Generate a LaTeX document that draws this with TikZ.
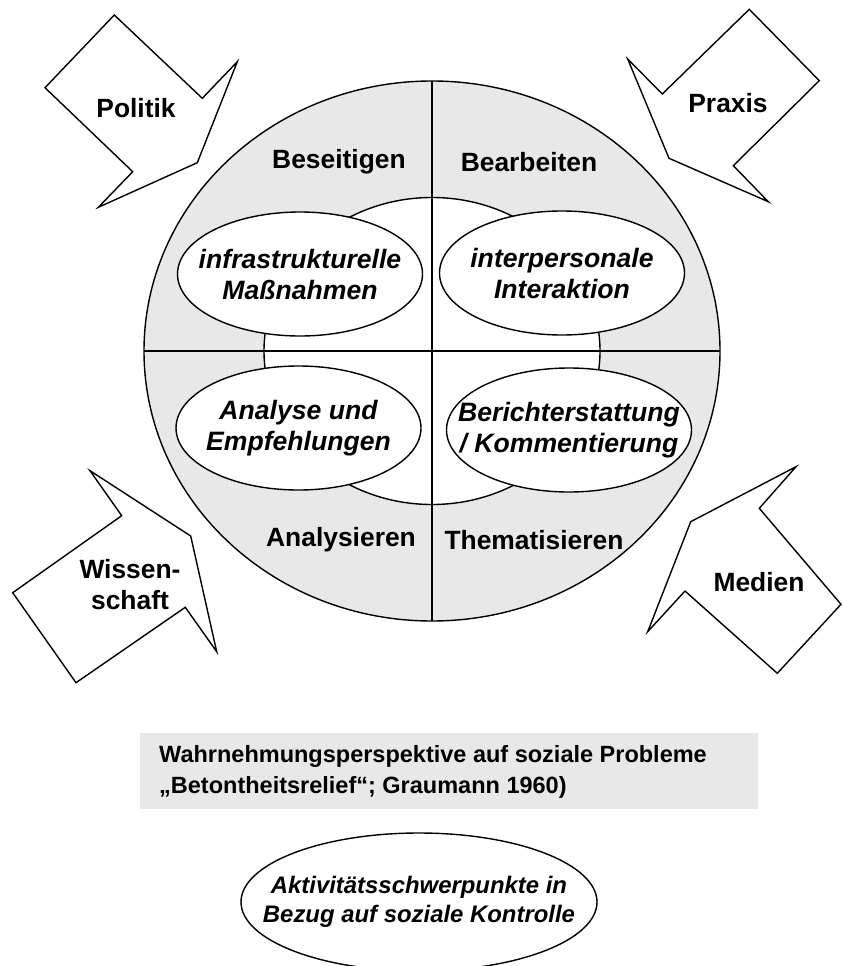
\documentclass[tikz,border=0pt]{standalone}
\usepackage{fontspec}
\setmainfont{Liberation Sans}
\usepackage{tikz}
\usetikzlibrary{shapes.geometric}
\definecolor{ringgray}{HTML}{E8E8E8}

\begin{document}
\begin{tikzpicture}[x=1pt, y=-1pt,
  thickline/.style={draw=black, line width=1.4pt, line join=miter},
  ringtext/.style={font=\fontsize{26.4}{31}\selectfont\bfseries, inner sep=0pt, align=center},
  focus/.style={ellipse, thickline, fill=white, minimum width=245pt, minimum height=124pt, inner sep=0pt},
  focustext/.style={font=\fontsize{26.6}{31}\selectfont\bfseries\itshape, inner sep=0pt, align=center},
  inflow/.style={thickline, fill=white}]
\useasboundingbox (0,0) rectangle (842,966);
\coordinate (c) at (432,351);
\coordinate (ringtop) at (432,81);
\coordinate (ringbottom) at (432,621);
\coordinate (ringleft) at (144,351);
\coordinate (ringright) at (720,351);
\fill[ringgray] (c) ellipse [x radius=288, y radius=270];
\draw[thickline] (c) ellipse [x radius=288, y radius=270];
\draw[thickline, fill=white] (c) ellipse [x radius=168, y radius=153.5];
\draw[thickline] (ringtop) -- (ringbottom);
\draw[thickline] (ringleft) -- (ringright);
\node[ringtext] (beseitigen) at (339,162) {Beseitigen};
\node[ringtext] (bearbeiten) at (529,162) {Bearbeiten};
\node[ringtext] (analysieren) at (341,540) {Analysieren};
\node[ringtext] (thematisieren) at (534,540) {Thematisieren};
\node[focus] (infra) at (300,274) {};
\node[focus] (inter) at (562,273) {};
\node[focus] (analyse) at (298.5,428) {};
\node[focus] (bericht) at (569,430) {};
\node[focustext] at (infra) {infrastrukturelle\\Maßnahmen};
\node[focustext] at (inter) {interpersonale\\Interaktion};
\node[focustext] at (analyse) {Analyse und\\Empfehlungen};
\node[focustext] at (bericht) {Berichterstattung\\/ Kommentierung};
\draw[inflow] (114.3,15) -- (202.3,98.3) -- (237.3,61.7) -- (197.3,162.7) -- (98.3,207.3) -- (132.7,171.7) -- (45,87.7) -- cycle;
\draw[inflow] (749.3,9.3) -- (819.3,80.7) -- (733.3,165.7) -- (768.3,201.7) -- (669,158.3) -- (627.7,59) -- (662.3,94) -- cycle;
\draw[inflow] (90,470.7) -- (190.7,536) -- (216.7,651.7) -- (185.3,607.3) -- (76,682.7) -- (12.7,592.7) -- (121.7,515.7) -- cycle;
\draw[inflow] (796,466.7) -- (690.7,521.7) -- (647.7,631.7) -- (685,591) -- (777.3,673.3) -- (841,604.3) -- (759.3,508.3) -- cycle;
\node[ringtext] (politik) at (136,108) {Politik};
\node[ringtext] (praxis) at (728,103) {Praxis};
\node[ringtext] (wissenschaft) at (130,584.5) {Wissen-\\schaft};
\node[ringtext] (medien) at (759,582) {Medien};
\node[fill=ringgray, minimum width=618pt, minimum height=76pt, inner sep=0pt] (percept) at (449,771) {};
\node[anchor=west, inner sep=0pt, align=left, font=\fontsize{23.5}{31}\selectfont\bfseries] (percepttext) at (159,772) {Wahrnehmungsperspektive auf soziale Probleme\\„Betontheitsrelief“; Graumann 1960)};
\node[focus, minimum width=356pt, minimum height=138pt] (activity) at (419,902) {};
\node[focustext, font=\fontsize{23.9}{29}\selectfont\bfseries\itshape] at (activity) {Aktivitätsschwerpunkte in\\Bezug auf soziale Kontrolle};
\end{tikzpicture}
\end{document}
